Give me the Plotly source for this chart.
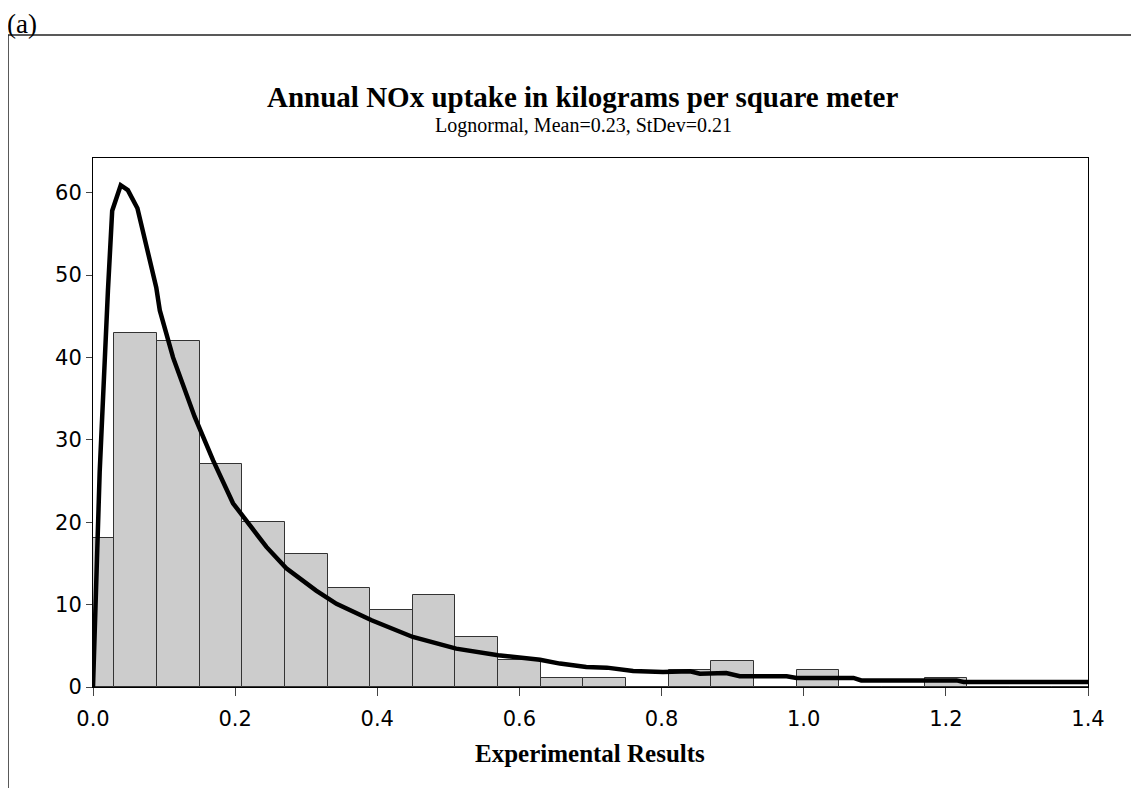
import plotly.graph_objects as go

# histogram bins (centre of each 0.06 wide bin) and bar heights
bin_centers = [0.00, 0.06, 0.12, 0.18, 0.24, 0.30, 0.36, 0.42, 0.48, 0.54,
               0.60, 0.66, 0.72, 0.78, 0.84, 0.90, 0.96, 1.02, 1.08, 1.14,
               1.20, 1.26, 1.32, 1.38]
bin_counts = [18.1, 43.0, 42.0, 27.1, 20.0, 16.1, 12.0, 9.3, 11.2, 6.1,
              3.3, 1.1, 1.1, 0.0, 2.1, 3.2, 0.0, 2.1, 0.0, 0.0,
              1.1, 0.0, 0.0, 0.0]

# fitted lognormal curve
curve_x = [0.0, 0.0094, 0.021, 0.027, 0.039, 0.049, 0.0625, 0.076, 0.089, 0.094,
           0.1126, 0.143, 0.169, 0.197, 0.216, 0.244, 0.272, 0.314, 0.3426, 0.392,
           0.450, 0.511, 0.570, 0.629, 0.657, 0.685, 0.694, 0.723, 0.746, 0.760,
           0.802, 0.840, 0.854, 0.891, 0.910, 0.976, 0.990, 1.070, 1.081, 1.215,
           1.225, 1.40]
curve_y = [0.0, 26.1, 48.1, 57.8, 60.9, 60.3, 58.1, 53.4, 48.5, 45.7,
           40.0, 32.8, 27.5, 22.3, 20.2, 17.0, 14.4, 11.7, 10.1, 8.1,
           6.07, 4.66, 3.85, 3.3, 2.84, 2.63, 2.43, 2.35, 2.1, 1.94,
           1.82, 1.9, 1.62, 1.7, 1.3, 1.3, 1.1, 1.1, 0.8, 0.8,
           0.6, 0.6]

x_ticks = [0.0, 0.2, 0.4, 0.6, 0.8, 1.0, 1.2, 1.4]
x_ticklabels = ["0.0", "0.2", "0.4", "0.6", "0.8", "1.0", "1.2", "1.4"]
y_ticks = [0, 10, 20, 30, 40, 50, 60]

serif = "Liberation Serif, Times New Roman, serif"
sans = "DejaVu Sans, Verdana, sans-serif"

fig = go.Figure()

fig.add_trace(go.Bar(
    x=bin_centers,
    y=bin_counts,
    width=0.06,
    marker=dict(color="#cccccc", line=dict(color="#333333", width=1)),
))

fig.add_trace(go.Scatter(
    x=curve_x,
    y=curve_y,
    mode="lines",
    line=dict(color="black", width=4.5),
))

fig.update_xaxes(
    range=[0, 1.4],
    tickvals=x_ticks,
    ticktext=x_ticklabels,
    ticks="outside",
    ticklen=8,
    tickcolor="#444",
    ticklabelstandoff=5,
    showline=True,
    mirror=True,
    linecolor="black",
    linewidth=1,
    showgrid=False,
    zeroline=False,
    tickfont=dict(family=sans, size=21, color="black"),
)
fig.update_yaxes(
    range=[0, 64.2],
    tickvals=y_ticks,
    ticks="outside",
    ticklen=6,
    tickcolor="#444",
    showline=True,
    mirror=True,
    linecolor="black",
    linewidth=1,
    showgrid=False,
    zeroline=False,
    tickfont=dict(family=sans, size=21, color="black"),
)

# page has an 8 px body margin, so work in page pixels and shift by it
OFF = 8
W, H = 1139 - OFF, 788 - OFF
L, R, T, B = 93 - OFF, 1088 - OFF, 158 - OFF, 687 - OFF
def px(xp):
    return (xp - OFF - L) / (R - L)
def py(yp):
    return (B - (yp - OFF)) / (B - T)

fig.add_annotation(x=px(582), y=py(97), xref="paper", yref="paper", showarrow=False,
                   yanchor="middle",
                   text="<b>Annual NOx uptake in kilograms per square meter</b>",
                   font=dict(family=serif, size=29, color="black"))
fig.add_annotation(x=px(583), y=py(125), xref="paper", yref="paper", showarrow=False,
                   yanchor="middle",
                   text="Lognormal, Mean=0.23, StDev=0.21",
                   font=dict(family=serif, size=20, color="black"))
fig.add_annotation(x=px(590), y=py(753), xref="paper", yref="paper", showarrow=False,
                   yanchor="middle",
                   text="<b>Experimental Results</b>",
                   font=dict(family=serif, size=25, color="black"))
fig.add_annotation(x=px(6), y=py(8), xref="paper", yref="paper", showarrow=False,
                   xanchor="left", yanchor="top", text="(a)", borderpad=0,
                   font=dict(family=serif, size=27, color="black"))

# outer frame around the panel
fig.add_shape(type="line", xref="paper", yref="paper",
              x0=px(8), y0=py(35), x1=px(1150), y1=py(35),
              line=dict(color="#222", width=1.5))
fig.add_shape(type="line", xref="paper", yref="paper",
              x0=px(8), y0=py(35), x1=px(8), y1=py(800),
              line=dict(color="#222", width=1.5))

fig.update_layout(
    width=W,
    height=H,
    margin=dict(l=L, r=W - R, t=T, b=H - B),
    showlegend=False,
    plot_bgcolor="white",
    paper_bgcolor="white",
    bargap=0,
)

fig.write_html("out.html")
